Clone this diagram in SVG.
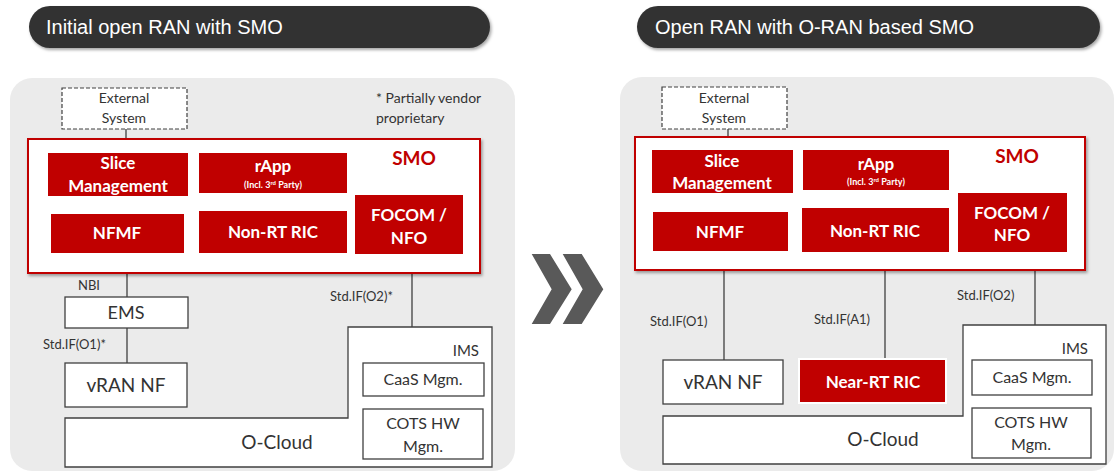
<svg xmlns="http://www.w3.org/2000/svg" width="1115" height="473" viewBox="0 0 1115 473">
<defs>
<style>
.pill{fill:#333333}
.ttl{fill:#ffffff;font-family:"Liberation Sans",Arial,sans-serif;font-size:20px}
.panel{fill:#ebebeb}
.smo{fill:#ffffff;stroke:#c00000;stroke-width:2}
.red{fill:#c00000}
.wb{fill:#ffffff;stroke:#404040;stroke-width:1.3}
.dash{fill:#ffffff;stroke:#404040;stroke-width:1.2;stroke-dasharray:4 2}
.t{font-family:Lato,"Liberation Sans",sans-serif;fill:#333333}
.rt{font-family:Lato,"Liberation Sans",sans-serif;fill:#ffffff;font-weight:bold;text-anchor:middle}
.c{text-anchor:middle}
.ln{stroke:#404040;stroke-width:1.3;fill:none}
.chev{fill:#595959}
</style>
<filter id="sh" x="-5%" y="-5%" width="110%" height="115%">
<feDropShadow dx="1.5" dy="2" stdDeviation="1.5" flood-color="#000" flood-opacity="0.35"/>
</filter>
</defs>

<!-- titles -->
<g id="title-left">
<rect class="pill" x="29" y="6" width="461" height="42" rx="21" filter="url(#sh)"/>
<text class="ttl" x="46" y="34">Initial open RAN with SMO</text>
</g>
<g id="title-right">
<rect class="pill" x="637" y="6" width="463" height="42" rx="21" filter="url(#sh)"/>
<text class="ttl" x="655" y="34">Open RAN with O-RAN based SMO</text>
</g>

<!-- panels -->
<rect id="panel-left" class="panel" x="10" y="78" width="505" height="393" rx="22"/>
<rect id="panel-right" class="panel" x="620" y="77" width="494" height="394" rx="22"/>

<!-- chevron -->
<g id="arrow">
<polygon class="chev" points="531.7,254 550,254 571.7,289.3 550,324 531.7,324 551.7,289.3"/>
<polygon class="chev" points="562.7,254 581.7,254 603.3,289.3 581.7,324 562.7,324 582.7,289.3"/>
</g>

<!-- connectors -->
<g id="connectors">
<line class="ln" x1="126" y1="129" x2="126" y2="139"/>
<line class="ln" x1="127" y1="273" x2="127" y2="297"/>
<line class="ln" x1="127" y1="328" x2="127" y2="363"/>
<line class="ln" x1="412" y1="273" x2="412" y2="327"/>
<line class="ln" x1="728" y1="129" x2="728" y2="137"/>
<line class="ln" x1="724" y1="270" x2="724" y2="360"/>
<line class="ln" x1="885" y1="270" x2="885" y2="358"/>
<line class="ln" x1="1035" y1="270" x2="1035" y2="325"/>
</g>

<!-- connector labels -->
<g id="labels" class="t" font-size="13">
<text x="78" y="290">NBI</text>
<text x="43" y="349">Std.IF(O1)*</text>
<text x="330" y="301">Std.IF(O2)*</text>
<text x="650" y="326">Std.IF(O1)</text>
<text x="814" y="324">Std.IF(A1)</text>
<text x="957" y="300">Std.IF(O2)</text>
</g>

<!-- LEFT -->
<g id="ext-left">
<rect class="dash" x="62" y="88" width="125" height="41"/>
<text class="t c" x="124" y="103" font-size="14">External</text>
<text class="t c" x="124" y="123" font-size="14">System</text>
</g>
<g id="note-left" class="t" font-size="14">
<text x="376" y="103">* Partially vendor</text>
<text x="376" y="123">proprietary</text>
</g>
<g id="smo-left">
<rect class="smo" x="28" y="139" width="452" height="134" filter="url(#sh)"/>
<text x="414" y="165" font-family="Lato,'Liberation Sans',sans-serif" font-weight="bold" font-size="19" fill="#c00000" text-anchor="middle">SMO</text>
</g>
<g id="slice-left">
<rect class="red" x="48" y="153" width="140" height="43"/>
<text class="rt" x="118" y="169" font-size="17">Slice</text>
<text class="rt" x="118" y="192" font-size="17">Management</text>
</g>
<g id="rapp-left">
<rect class="red" x="199" y="153" width="148" height="40"/>
<text class="rt" x="273" y="172" font-size="17">rApp</text>
<text class="rt" x="273" y="188" font-size="9">(Incl. 3<tspan font-size="6" dy="-3">rd</tspan><tspan dy="3"> Party)</tspan></text>
</g>
<g id="focom-left">
<rect class="red" x="355" y="195" width="108" height="59"/>
<text class="rt" x="409" y="221" font-size="17">FOCOM /</text>
<text class="rt" x="409" y="244" font-size="17">NFO</text>
</g>
<g id="nfmf-left">
<rect class="red" x="51" y="214" width="133" height="39"/>
<text class="rt" x="117" y="239" font-size="17">NFMF</text>
</g>
<g id="nonrt-left">
<rect class="red" x="199" y="211" width="148" height="42"/>
<text class="rt" x="273" y="238" font-size="17">Non-RT RIC</text>
</g>
<g id="ems">
<rect class="wb" x="65" y="297" width="123" height="31"/>
<text class="t c" x="126" y="319" font-size="18">EMS</text>
</g>
<g id="vran-left">
<rect class="wb" x="65" y="363" width="122" height="44"/>
<text class="t c" x="126" y="392" font-size="19">vRAN NF</text>
</g>
<g id="ocloud-left">
<path class="wb" d="M348,327 H492 V467 H65 V418 H348 Z"/>
<text class="t c" x="277" y="449" font-size="19">O-Cloud</text>
<text class="t" x="479" y="356" font-size="15" text-anchor="end">IMS</text>
</g>
<g id="caas-left">
<rect class="wb" x="363" y="363" width="121" height="33"/>
<text class="t c" x="423" y="385" font-size="16">CaaS Mgm.</text>
</g>
<g id="cots-left">
<rect class="wb" x="363" y="409" width="120" height="50"/>
<text class="t c" x="423" y="429" font-size="16">COTS HW</text>
<text class="t c" x="423" y="452" font-size="16">Mgm.</text>
</g>

<!-- RIGHT -->
<g id="ext-right">
<rect class="dash" x="662" y="87" width="125" height="42"/>
<text class="t c" x="724" y="103" font-size="14">External</text>
<text class="t c" x="724" y="123" font-size="14">System</text>
</g>
<g id="smo-right">
<rect class="smo" x="635" y="137" width="450" height="133" filter="url(#sh)"/>
<text x="1017" y="163" font-family="Lato,'Liberation Sans',sans-serif" font-weight="bold" font-size="19" fill="#c00000" text-anchor="middle">SMO</text>
</g>
<g id="slice-right">
<rect class="red" x="652" y="150" width="141" height="43"/>
<text class="rt" x="722" y="167" font-size="17">Slice</text>
<text class="rt" x="722" y="189" font-size="17">Management</text>
</g>
<g id="rapp-right">
<rect class="red" x="803" y="150" width="146" height="40"/>
<text class="rt" x="876" y="170" font-size="17">rApp</text>
<text class="rt" x="876" y="185" font-size="9">(Incl. 3<tspan font-size="6" dy="-3">rd</tspan><tspan dy="3"> Party)</tspan></text>
</g>
<g id="focom-right">
<rect class="red" x="958" y="193" width="109" height="59"/>
<text class="rt" x="1012" y="219" font-size="17">FOCOM /</text>
<text class="rt" x="1012" y="241" font-size="17">NFO</text>
</g>
<g id="nfmf-right">
<rect class="red" x="653" y="212" width="135" height="39"/>
<text class="rt" x="720" y="238" font-size="17">NFMF</text>
</g>
<g id="nonrt-right">
<rect class="red" x="802" y="208" width="147" height="44"/>
<text class="rt" x="875" y="237" font-size="17">Non-RT RIC</text>
</g>
<g id="vran-right">
<rect class="wb" x="663" y="360" width="120" height="44"/>
<text class="t c" x="723" y="389" font-size="19">vRAN NF</text>
</g>
<g id="nearrt">
<rect x="799" y="359" width="147" height="44" fill="#c00000" stroke="#ffffff" stroke-width="2"/>
<text class="rt" x="873" y="388" font-size="17">Near-RT RIC</text>
</g>
<g id="ocloud-right">
<path class="wb" d="M963,325 H1106 V464 H663 V416 H963 Z"/>
<text class="t c" x="883" y="446" font-size="19">O-Cloud</text>
<text class="t" x="1088" y="354" font-size="15" text-anchor="end">IMS</text>
</g>
<g id="caas-right">
<rect class="wb" x="972" y="360" width="120" height="35"/>
<text class="t c" x="1032" y="383" font-size="16">CaaS Mgm.</text>
</g>
<g id="cots-right">
<rect class="wb" x="972" y="408" width="119" height="50"/>
<text class="t c" x="1031" y="428" font-size="16">COTS HW</text>
<text class="t c" x="1031" y="450" font-size="16">Mgm.</text>
</g>
</svg>
